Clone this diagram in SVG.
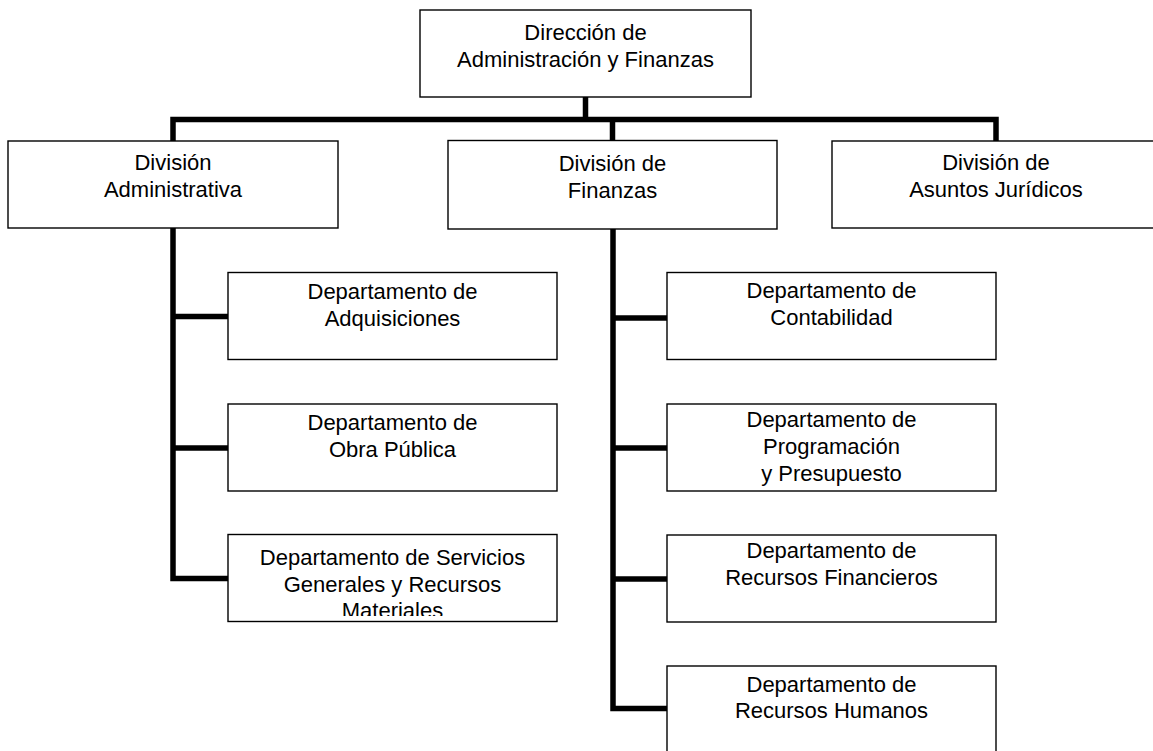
<svg xmlns="http://www.w3.org/2000/svg" width="1153" height="751" viewBox="0 0 1153 751">
<style>
.box{fill:#fff;stroke:#000;stroke-width:1.4}
.lbl{font-family:"Liberation Sans",Arial,sans-serif;font-size:22px;fill:#000;text-anchor:middle}
.con{fill:none;stroke:#000;stroke-width:5.5;stroke-linejoin:miter;stroke-linecap:butt}
</style>
<defs>
<clipPath id="clipServ"><rect x="228" y="534" width="330" height="82"/></clipPath>
</defs>
<rect width="1153" height="751" fill="#fff"/>
<g id="connectors">
<path class="con" d="M585.5,97 V119.5"/>
<path class="con" d="M173,141 V119.5 H996 V141"/>
<path class="con" d="M612.5,119.5 V140.5"/>
<path class="con" d="M173,228 V578.5 H228"/>
<path class="con" d="M173,316.5 H228"/>
<path class="con" d="M173,448 H228"/>
<path class="con" d="M613,229 V708.5 H667"/>
<path class="con" d="M613,318 H667"/>
<path class="con" d="M613,448 H667"/>
<path class="con" d="M613,579 H667"/>
</g>
<g id="n-direccion">
<rect class="box" x="420" y="10" width="331" height="87"/>
<text class="lbl"><tspan x="585.5" y="40">Dirección de</tspan><tspan x="585.5" y="67">Administración y Finanzas</tspan></text>
</g>
<g id="n-div-adm">
<rect class="box" x="8" y="141" width="330" height="87"/>
<text class="lbl"><tspan x="173" y="170">División</tspan><tspan x="173" y="197">Administrativa</tspan></text>
</g>
<g id="n-div-fin">
<rect class="box" x="448" y="140.5" width="329" height="88.5"/>
<text class="lbl"><tspan x="612.5" y="171">División de</tspan><tspan x="612.5" y="198">Finanzas</tspan></text>
</g>
<g id="n-div-jur">
<rect class="box" x="832" y="141" width="330" height="87"/>
<text class="lbl"><tspan x="996" y="170">División de</tspan><tspan x="996" y="197">Asuntos Jurídicos</tspan></text>
</g>
<g id="n-adq">
<rect class="box" x="228" y="272.5" width="329" height="87"/>
<text class="lbl"><tspan x="392.5" y="299">Departamento de</tspan><tspan x="392.5" y="326">Adquisiciones</tspan></text>
</g>
<g id="n-obra">
<rect class="box" x="228" y="404" width="329" height="87"/>
<text class="lbl"><tspan x="392.5" y="430">Departamento de</tspan><tspan x="392.5" y="457">Obra Pública</tspan></text>
</g>
<g id="n-serv">
<rect class="box" x="228" y="534.5" width="329" height="87"/>
<g clip-path="url(#clipServ)">
<text class="lbl"><tspan x="392.5" y="565">Departamento de Servicios</tspan><tspan x="392.5" y="592">Generales y Recursos</tspan><tspan x="392.5" y="618">Materiales</tspan></text>
</g>
</g>
<g id="n-cont">
<rect class="box" x="667" y="272.5" width="329" height="87"/>
<text class="lbl"><tspan x="831.5" y="298">Departamento de</tspan><tspan x="831.5" y="325">Contabilidad</tspan></text>
</g>
<g id="n-prog">
<rect class="box" x="667" y="404" width="329" height="87"/>
<text class="lbl"><tspan x="831.5" y="427">Departamento de</tspan><tspan x="831.5" y="454">Programación</tspan><tspan x="831.5" y="481">y Presupuesto</tspan></text>
</g>
<g id="n-finan">
<rect class="box" x="667" y="535" width="329" height="87"/>
<text class="lbl"><tspan x="831.5" y="558">Departamento de</tspan><tspan x="831.5" y="585">Recursos Financieros</tspan></text>
</g>
<g id="n-hum">
<rect class="box" x="667" y="666" width="329" height="95"/>
<text class="lbl"><tspan x="831.5" y="692">Departamento de</tspan><tspan x="831.5" y="718">Recursos Humanos</tspan></text>
</g>
</svg>
